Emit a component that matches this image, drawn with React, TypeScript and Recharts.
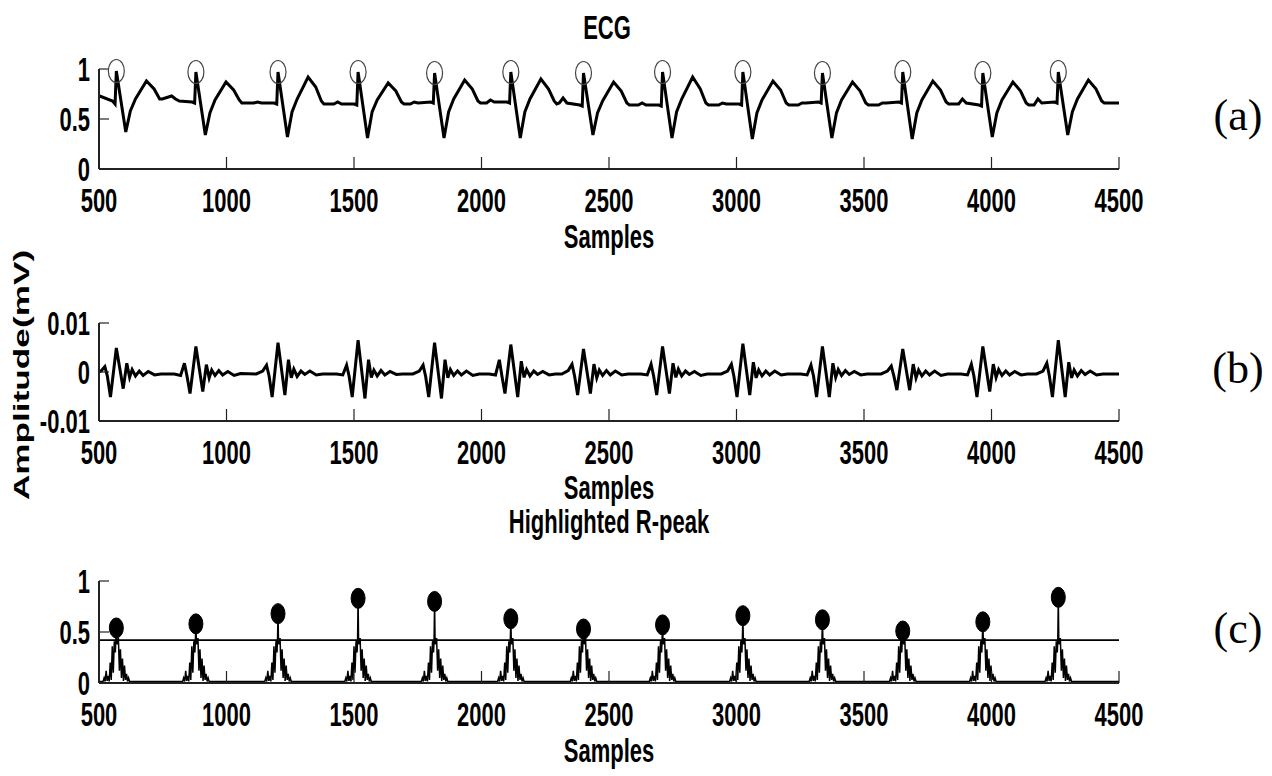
import React from "react";
import { ComposedChart, Line, Scatter, XAxis, YAxis, ReferenceLine } from "recharts";

// axis ticks
const xTicks = [500, 1000, 1500, 2000, 2500, 3000, 3500, 4000, 4500];
const unitTicks = [0, 0.5, 1];
const bandTicks = [-0.01, 0, 0.01];

// R-peak sample positions
const rPeaks = [568, 880, 1202, 1516, 1816, 2115, 2400, 2710, 3025, 3337, 3652, 3966, 4262];

// (a) ECG: points per beat, offsets relative to the R peak
// p0, P, p1, pre, Q, R, S, j1, j2, T, t1, t2, post
const ecgOffsets = [-95, -80, -65, -15, -5, 0, 37, 55, 75, 118, 148, 170, 180];
const ecgBeats = [
  [0.7, 0.7, 0.73, 0.68, 0.65, 0.98, 0.37, 0.58, 0.7, 0.88, 0.8, 0.7, 0.7],
  [0.73, 0.7, 0.68, 0.67, 0.66, 0.97, 0.34, 0.56, 0.69, 0.87, 0.79, 0.69, 0.66],
  [0.66, 0.67, 0.66, 0.66, 0.65, 0.97, 0.32, 0.57, 0.7, 0.92, 0.82, 0.68, 0.65],
  [0.65, 0.67, 0.65, 0.65, 0.64, 0.97, 0.31, 0.57, 0.69, 0.86, 0.78, 0.67, 0.65],
  [0.65, 0.67, 0.66, 0.67, 0.66, 0.96, 0.31, 0.57, 0.7, 0.89, 0.8, 0.68, 0.66],
  [0.66, 0.69, 0.67, 0.67, 0.66, 0.97, 0.31, 0.57, 0.7, 0.9, 0.8, 0.68, 0.65],
  [0.66, 0.71, 0.66, 0.64, 0.63, 0.96, 0.34, 0.56, 0.68, 0.87, 0.78, 0.66, 0.64],
  [0.64, 0.66, 0.64, 0.64, 0.63, 0.97, 0.31, 0.57, 0.7, 0.92, 0.8, 0.66, 0.64],
  [0.64, 0.66, 0.65, 0.65, 0.64, 0.97, 0.3, 0.56, 0.69, 0.88, 0.79, 0.66, 0.64],
  [0.64, 0.66, 0.66, 0.67, 0.66, 0.96, 0.31, 0.56, 0.69, 0.87, 0.78, 0.66, 0.64],
  [0.64, 0.66, 0.66, 0.67, 0.66, 0.97, 0.3, 0.56, 0.69, 0.88, 0.79, 0.67, 0.65],
  [0.65, 0.7, 0.66, 0.64, 0.63, 0.96, 0.32, 0.56, 0.69, 0.87, 0.78, 0.66, 0.64],
  [0.64, 0.7, 0.66, 0.67, 0.66, 0.97, 0.34, 0.57, 0.7, 0.89, 0.8, 0.68, 0.66],
];
const ecgEnd = 0.66;

// (b) filtered signal around each beat
// base, rip, pre, dip, trough1, peak, trough2, bump, dip2, then ripples back to base
const filtOffsets = [-85, -60, -45, -35, -23, 0, 27, 41, 52, 62, 75, 90, 105, 125, 150, 175];
const filtBeats = [
  [-0.0004, 0.0002, 0.0011, -0.0009, -0.0051, 0.0049, -0.0034, 0.0018, -0.0011, 0.0005, -0.0008, 0.0002, -0.0007, 0.0001, -0.0006, -0.0004],
  [-0.0004, -0.0007, 0.0018, -0.0008, -0.0044, 0.0052, -0.004, 0.0015, -0.0012, 0.0004, -0.0007, 0.0003, -0.0006, 0.0001, -0.0007, -0.0003],
  [-0.0004, 0.0002, 0.0014, -0.0008, -0.0051, 0.006, -0.0047, 0.0025, -0.0012, 0.0006, -0.0009, 0.0002, -0.0005, 0.0002, -0.0006, -0.0004],
  [-0.0004, -0.0006, 0.0014, -0.0009, -0.0051, 0.0065, -0.0054, 0.0025, -0.0011, 0.0004, -0.0008, 0.0003, -0.0006, 0.0001, -0.0005, -0.0004],
  [-0.0004, 0.0002, 0.0014, -0.0009, -0.0051, 0.006, -0.0054, 0.0025, -0.0012, 0.0005, -0.0007, 0.0002, -0.0006, 0.0002, -0.0007, -0.0004],
  [-0.0004, -0.0006, 0.0025, -0.0008, -0.0044, 0.0056, -0.0051, 0.0022, -0.0011, 0.0005, -0.0008, 0.0002, -0.0005, 0.0001, -0.0006, -0.0004],
  [-0.0004, 0.0003, 0.0016, -0.0008, -0.0047, 0.0047, -0.0044, 0.0016, -0.0012, 0.0004, -0.0007, 0.0003, -0.0006, 0.0002, -0.0006, -0.0004],
  [-0.0004, -0.0006, 0.0016, -0.0008, -0.0047, 0.0052, -0.0044, 0.0018, -0.0011, 0.0006, -0.0008, 0.0002, -0.0005, 0.0001, -0.0007, -0.0004],
  [-0.0004, 0.0002, 0.0016, -0.0009, -0.0051, 0.0058, -0.0047, 0.002, -0.0012, 0.0004, -0.0008, 0.0002, -0.0006, 0.0002, -0.0006, -0.0004],
  [-0.0004, -0.0006, 0.0014, -0.0008, -0.0051, 0.0052, -0.0051, 0.0018, -0.0011, 0.0005, -0.0007, 0.0003, -0.0005, 0.0001, -0.0006, -0.0004],
  [-0.0004, 0.0002, 0.0012, -0.0008, -0.0037, 0.0047, -0.0037, 0.0016, -0.0012, 0.0004, -0.0008, 0.0002, -0.0006, 0.0002, -0.0007, -0.0004],
  [-0.0004, -0.0006, 0.0016, -0.0008, -0.0051, 0.0052, -0.004, 0.0016, -0.0011, 0.0005, -0.0007, 0.0002, -0.0006, 0.0001, -0.0006, -0.0004],
  [-0.0004, 0.0002, 0.0018, -0.0008, -0.0051, 0.0065, -0.0051, 0.002, -0.0012, 0.0004, -0.0008, 0.0003, -0.0005, 0.0002, -0.0006, -0.0004],
];
const filtEnd = -0.0004;

// (c) highlighted peaks: dot height per beat + comb of spikes around it
const peakHeights = [0.54, 0.58, 0.68, 0.83, 0.8, 0.63, 0.53, 0.57, 0.66, 0.62, 0.51, 0.6, 0.84];
const combOffsets = [-52, -48, -44, -40, -36, -32, -28, -24, -20, -16, -12, -8, -4, -2, 0, 2, 4, 8, 12, 16, 20, 24, 28, 32, 36, 40, 44, 48, 52];
const combShape = [0.015, 0.05, 0.015, 0.12, 0.02, 0.07, 0.015, 0.2, 0.03, 0.36, 0.1, 0.41, 0.3, 0.42, null, 0.4, 0.38, 0.44, 0.12, 0.33, 0.05, 0.24, 0.02, 0.17, 0.03, 0.09, 0.015, 0.05, 0.015];
const combBase = 0.015;
const threshold = 0.42;

const ecgSeries = [
  ...rPeaks.flatMap((r, i) => ecgOffsets.map((o, k) => ({ x: r + o, y: ecgBeats[i][k] }))),
  { x: 4500, y: ecgEnd },
];
const ecgMarks = rPeaks.map((r, i) => ({ x: r, y: ecgBeats[i][5] }));

const filtSeries = [
  ...rPeaks.flatMap((r, i) => filtOffsets.map((o, k) => ({ x: r + o, y: filtBeats[i][k] }))),
  { x: 4500, y: filtEnd },
];

const peakSeries = [
  { x: 500, y: combBase },
  ...rPeaks.flatMap((r, i) =>
    combOffsets.map((o, k) => ({ x: r + o, y: combShape[k] === null ? peakHeights[i] : combShape[k] }))
  ),
  { x: 4500, y: combBase },
];
const peakMarks = rPeaks.map((r, i) => ({ x: r, y: peakHeights[i] }));

const FONT = "'Liberation Sans', Arial, Helvetica, sans-serif";
const STRETCH = 1.5;
const FRAME = "#222";

const XTick = (props: any) => {
  const { x, y, payload } = props;
  return (
    <g transform={`translate(${x},${y}) scale(1,${STRETCH})`}>
      <text x={0} y={29} textAnchor="middle" fontFamily={FONT} fontWeight={700} fontSize={22} fill="#000">
        {payload.value}
      </text>
    </g>
  );
};

const YTick = (props: any) => {
  const { x, y, payload } = props;
  return (
    <g transform={`translate(${x},${y}) scale(1,${STRETCH})`}>
      <text x={0} y={7.9} textAnchor="end" fontFamily={FONT} fontWeight={700} fontSize={22} fill="#000">
        {payload.value}
      </text>
    </g>
  );
};

const OpenRing = (props: any) => (
  <ellipse cx={props.cx} cy={props.cy} rx={8} ry={11.5} fill="none" stroke="#444" strokeWidth={1.2} />
);
const FilledDot = (props: any) => (
  <ellipse cx={props.cx} cy={props.cy} rx={7} ry={10} fill="#000" stroke="#000" strokeWidth={1} />
);

interface PanelProps {
  top: number;
  height: number;
  plotTop: number;
  plotHeight: number;
  domain: [number, number];
  yTicks: number[];
  children: React.ReactNode;
}

const Panel: React.FC<PanelProps> = ({ top, height, plotTop, plotHeight, domain, yTicks, children }) => (
  <div style={{ position: "absolute", left: 0, top }}>
    <ComposedChart width={1272} height={height} margin={{ top: plotTop, right: 153, bottom: 0, left: 0 }}>
      <XAxis
        type="number"
        dataKey="x"
        domain={[500, 4500]}
        ticks={xTicks}
        interval={0}
        allowDataOverflow
        height={height - plotTop - plotHeight}
        tickSize={-12}
        tickMargin={12}
        tick={<XTick />}
        axisLine={{ stroke: FRAME, strokeWidth: 2 }}
        tickLine={{ stroke: FRAME, strokeWidth: 1.2 }}
      />
      <XAxis
        xAxisId="top"
        orientation="top"
        type="number"
        dataKey="x"
        domain={[500, 4500]}
        ticks={xTicks}
        interval={0}
        height={0}
        tickSize={-12}
        tick={false}
        axisLine={{ stroke: FRAME, strokeWidth: 2 }}
        tickLine={{ stroke: FRAME, strokeWidth: 1.2 }}
      />
      <YAxis
        type="number"
        dataKey="y"
        domain={domain}
        ticks={yTicks}
        interval={0}
        width={99}
        tickSize={-10}
        tickMargin={19}
        tick={<YTick />}
        axisLine={{ stroke: FRAME, strokeWidth: 2 }}
        tickLine={{ stroke: FRAME, strokeWidth: 1.2 }}
      />
      <YAxis
        yAxisId="right"
        orientation="right"
        type="number"
        domain={domain}
        ticks={yTicks}
        interval={0}
        width={0}
        tickSize={-10}
        tick={false}
        axisLine={{ stroke: FRAME, strokeWidth: 2 }}
        tickLine={{ stroke: FRAME, strokeWidth: 1.2 }}
      />
      {children}
    </ComposedChart>
  </div>
);

const Caption = ({ x, y, text }: { x: number; y: number; text: string }) => (
  <g transform={`translate(${x},${y}) scale(1,${STRETCH})`}>
    <text x={0} y={7.9} textAnchor="middle" fontFamily={FONT} fontWeight={700} fontSize={22} fill="#000">
      {text}
    </text>
  </g>
);

const PanelTag = ({ y, text }: { y: number; text: string }) => (
  <text x={1238} y={y + 11} textAnchor="middle" fontFamily="'Liberation Serif', 'Times New Roman', serif" fontSize={44} fill="#000">
    {text}
  </text>
);

export default function App() {
  return (
    <div style={{ position: "fixed", left: 0, top: 0, width: 1272, height: 776, background: "#fff", overflow: "hidden" }}>
      <Panel top={0} height={240} plotTop={69} plotHeight={100} domain={[0, 1]} yTicks={unitTicks}>
        <Line data={ecgSeries} dataKey="y" type="linear" stroke="#000" strokeWidth={3} dot={false} isAnimationActive={false} />
        <Scatter data={ecgMarks} dataKey="y" xAxisId="top" shape={<OpenRing />} isAnimationActive={false} />
      </Panel>
      <Panel top={250} height={260} plotTop={73} plotHeight={98} domain={[-0.01, 0.01]} yTicks={bandTicks}>
        <Line data={filtSeries} dataKey="y" type="linear" stroke="#000" strokeWidth={3} dot={false} isAnimationActive={false} />
      </Panel>
      <Panel top={520} height={256} plotTop={61} plotHeight={102} domain={[0, 1]} yTicks={unitTicks}>
        <ReferenceLine y={threshold} stroke="#000" strokeWidth={1.8} />
        <Line data={peakSeries} dataKey="y" type="linear" stroke="#000" strokeWidth={1.5} dot={false} isAnimationActive={false} />
        <Scatter data={peakMarks} dataKey="y" xAxisId="top" shape={<FilledDot />} isAnimationActive={false} />
      </Panel>
      <svg width={1272} height={776} style={{ position: "absolute", left: 0, top: 0, pointerEvents: "none" }}>
        <Caption x={607} y={27} text="ECG" />
        <Caption x={609} y={236} text="Samples" />
        <Caption x={609} y={487} text="Samples" />
        <Caption x={609} y={521} text="Highlighted R-peak" />
        <Caption x={609} y={750} text="Samples" />
        <g transform={`translate(29,375) scale(1,1.6) rotate(-90)`}>
          <text x={0} y={0} textAnchor="middle" fontFamily={FONT} fontWeight={700} fontSize={22} fill="#000">
            Amplitude(mV)
          </text>
        </g>
        <PanelTag y={119} text="(a)" />
        <PanelTag y={372} text="(b)" />
        <PanelTag y={632} text="(c)" />
      </svg>
    </div>
  );
}
